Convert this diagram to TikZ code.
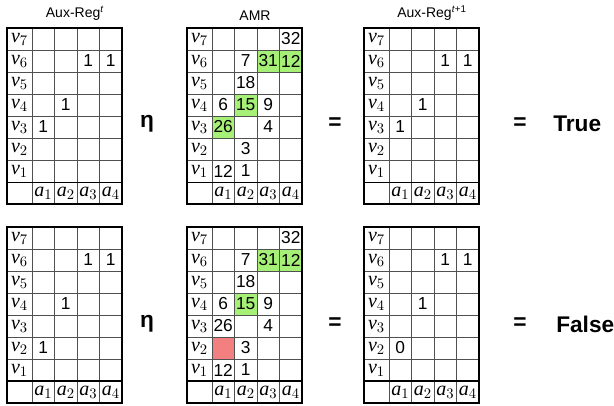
\documentclass[tikz,border=0pt]{standalone}
\usepackage{fontspec}
\setmainfont{Liberation Serif}
\setsansfont{Liberation Sans}
\usepackage{tikz}
\usetikzlibrary{positioning}
\definecolor{hitgreen}{RGB}{166,240,120}
\definecolor{missred}{RGB}{242,128,128}
\definecolor{gridgray}{RGB}{80,80,80}
\tikzstyle{gridline} = [draw=gridgray, line width=0.6pt]
\tikzstyle{frame} = [draw=black, line width=0.9pt]
\tikzstyle{lab} = [inner sep=0pt, font=\fontsize{15}{15}\selectfont]
\tikzstyle{num} = [inner sep=0pt, font=\sffamily\fontsize{13}{13}\selectfont]
\tikzstyle{title} = [inner sep=0pt, font=\sffamily\fontsize{10.5}{10.5}\selectfont]
\tikzstyle{op} = [inner sep=0pt, font=\sffamily\bfseries\fontsize{17}{17}\selectfont]

\begin{document}
\begin{tikzpicture}[x=0.75pt, y=-0.75pt]
  \useasboundingbox (0,0) rectangle (614,406);

  % cell fills first
  \foreach \gx/\gy in {187/28, 187/227} {
    \foreach \c/\v in {3/6, 4/6, 2/4}
      \fill[hitgreen] ({\gx+25+(\c-1)*22.5},{\gy+(7-\v)*22}) rectangle +(22.5,22);
  }
  \fill[hitgreen] (212,116) rectangle +(22.5,22);
  \fill[missred] (212,337) rectangle +(22.5,22);

  % the six grids
  \foreach \g/\gx/\gy/\w in {auxA/7/28/0.6, amrA/187/28/0.6, auxB/364/28/0.6, auxC/7/227/1.4, amrB/187/227/1.4, auxD/364/227/1.4} {
    \begin{scope}[shift={(\gx,\gy)}]
      \foreach \i in {1,...,6}
        \draw[gridline] (0,{\i*22}) -- (115,{\i*22});
      \draw[gridline] (25,0) -- (25,176);
      \foreach \j in {1,2,3}
        \draw[gridline] ({25+\j*22.5},0) -- ({25+\j*22.5},176);
      \draw[frame] (0,0) rectangle (115,176);
      \draw[frame, line width=\w pt] (0,154) -- (115,154);
      \foreach \k in {1,...,7}
        \node[lab] (\g-v\k) at (12.5,{(7-\k)*22+11}) {$\textit{v}_\k$};
      \foreach \j in {1,...,4}
        \node[lab] (\g-a\j) at ({25+(\j-0.5)*22.5},165) {$\textit{a}_\j$};
    \end{scope}
  }

  % Aux-Reg entries
  \foreach \g/\gx/\gy in {auxA/7/28, auxB/364/28} {
    \foreach \c/\v/\t in {3/6/1, 4/6/1, 2/4/1, 1/3/1}
      \node[num] (\g-\c\v) at ({\gx+25+(\c-0.5)*22.5},{\gy+(7-\v)*22+11}) {\t};
  }
  \foreach \c/\v/\t in {3/6/1, 4/6/1, 2/4/1, 1/2/1}
    \node[num] (auxC-\c\v) at ({7+25+(\c-0.5)*22.5},{227+(7-\v)*22+11}) {\t};
  \foreach \c/\v/\t in {3/6/1, 4/6/1, 2/4/1, 1/2/0}
    \node[num] (auxD-\c\v) at ({364+25+(\c-0.5)*22.5},{227+(7-\v)*22+11}) {\t};

  % AMR entries
  \foreach \g/\gy in {amrA/28, amrB/227} {
    \foreach \c/\v/\t in {4/7/32, 2/6/7, 3/6/31, 4/6/12, 2/5/18, 1/4/6, 2/4/15, 3/4/9, 1/3/26, 3/3/4, 2/2/3, 1/1/12, 2/1/1}
      \node[num] (\g-\c\v) at ({187+25+(\c-0.5)*22.5},{\gy+(7-\v)*22+11}) {\t};
  }

  % titles
  \node[title, above=9pt of auxA-v7.north -| auxA-a2.east] (tauxA) {Aux-Reg\textsuperscript{\textit{t}}};
  \node[title, above=9pt of amrA-v7.north -| amrA-a2.east] (tamrA) {AMR};
  \node[title, above=9pt of auxB-v7.north -| auxB-a2.east] (tauxB) {Aux-Reg\textsuperscript{\textit{t}+1}};

  % operators
  \node[op] (etaA) at (147,124) {η};
  \node[op] (eqA) at (335,124) {=};
  \node[op] (eqB) at (520,124) {=};
  \node[op, anchor=west] (resA) at (553,124) {True};
  \node[op] (etaB) at (147,324) {η};
  \node[op] (eqC) at (335,324) {=};
  \node[op] (eqD) at (520,324) {=};
  \node[op, anchor=west] (resB) at (556,324) {False};
\end{tikzpicture}
\end{document}
